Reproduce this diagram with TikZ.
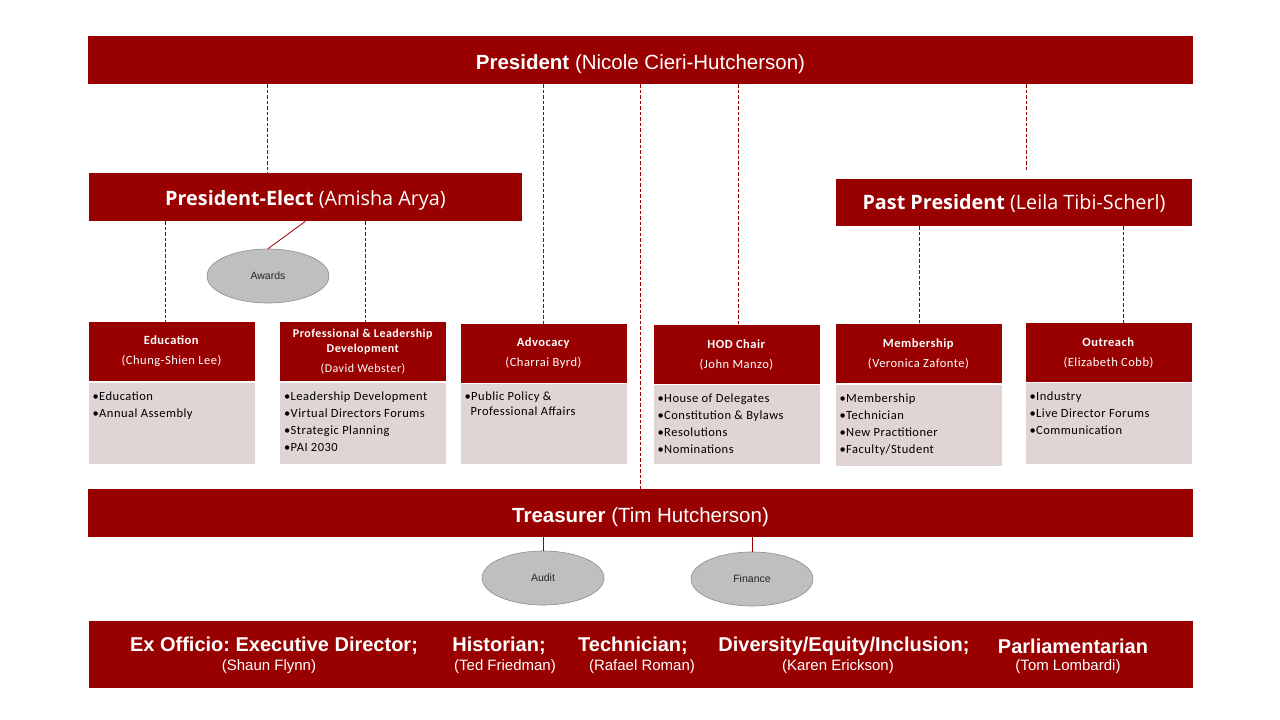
\documentclass[tikz,border=0pt]{standalone}
\usepackage{fontspec}
\setmainfont{Liberation Sans}
\newfontfamily\openf{Open Sans}
\newfontfamily\carl[LetterSpace=4]{Carlito}
\usetikzlibrary{shapes.geometric,calc}
\definecolor{dred}{HTML}{990000}
\definecolor{pinkg}{HTML}{E0D4D4}
\definecolor{ellfill}{HTML}{BFBFBF}
\definecolor{elldraw}{HTML}{8C8C8C}
\tikzset{
  bar/.style={fill=dred, draw=none, text=white, inner sep=0pt, align=center},
  hdr/.style={fill=dred, draw=none, text=white, inner sep=0pt, align=center,
    minimum width=166pt, font=\carl\fontsize{12.5}{20}\selectfont},
  bodybox/.style={fill=pinkg, draw=none, text=black, inner sep=0pt,
    font=\carl\fontsize{12.5}{17}\selectfont},
  oval/.style={ellipse, fill=ellfill, draw=elldraw, line width=0.6pt,
    minimum width=122pt, minimum height=54pt, inner sep=0pt,
    font=\fontsize{10.5}{12}\selectfont, text=black!85},
  dline/.style={draw=dred, line width=0.8pt, dash pattern=on 3.5pt off 2pt},
  sline/.style={draw=dred, line width=0.8pt},
  exo/.style={text=white, inner sep=0pt, align=center}
}
\newcommand{\blist}[2]{\parbox[c][#1][t]{166pt}{\vspace{9pt}\leftskip=4pt\parindent=0pt #2}}
\newcommand{\bi}[1]{\par\hangindent=6pt\hangafter=1 •#1}
\begin{document}
\frenchspacing
\begin{tikzpicture}[x=1pt,y=-1pt]
\useasboundingbox[fill=white] (0,0) rectangle (1280,720);

% top bars
\node[bar, minimum width=1105pt, minimum height=48pt, text height=19pt, text depth=0pt] (pres) at (640.5,60)
  {\fontsize{20.5}{22}\selectfont\textbf{President} (Nicole Cieri-Hutcherson)};
\node[bar, minimum width=433pt, minimum height=48pt, text height=16pt, text depth=0pt] (pe) at (305.5,197)
  {\openf\fontsize{19.8}{20}\selectfont\textbf{President-Elect} (Amisha Arya)};
\node[bar, minimum width=356pt, minimum height=47pt, text height=13.5pt, text depth=0pt] (pp) at (1014,202.5)
  {\openf\fontsize{19.8}{20}\selectfont\textbf{Past President} (Leila Tibi-Scherl)};

\node[oval] (awards) at (268,276) {Awards};

% committees
\node[hdr, minimum height=59pt] (edu) at (171.5,351.5) {\textbf{Education}\\(Chung-Shien Lee)};
\node[bodybox] (edub) at (171.5,423.5) {\blist{81pt}{\bi{Education}\bi{Annual Assembly}}};

\node[hdr, minimum height=59pt, font=\carl\fontsize{12}{15}\selectfont] (pld) at (363,351.5)
  {\textbf{Professional \& Leadership}\\\textbf{Development}\\[5pt](David Webster)};
\node[bodybox] (pldb) at (363,423.5) {\blist{81pt}{\bi{Leadership Development}\bi{Virtual Directors Forums}\bi{Strategic Planning}\bi{PAI 2030}}};

\node[hdr, minimum height=59pt] (adv) at (543.5,353.5) {\textbf{Advocacy}\\(Charrai Byrd)};
\node[bodybox] (advb) at (543.5,424) {\parbox[c][80pt][t]{166pt}{\vspace{8pt}\leftskip=4pt\parindent=0pt\fontsize{12.5}{15}\selectfont\hangindent=6pt\hangafter=1 •Public Policy \&\\Professional Affairs}};

\node[hdr, minimum height=59pt] (hod) at (736.5,354.5) {\textbf{HOD Chair}\\(John Manzo)};
\node[bodybox] (hodb) at (736.5,424.5) {\blist{79pt}{\bi{House of Delegates}\bi{Constitution \& Bylaws}\bi{Resolutions}\bi{Nominations}}};

\node[hdr, minimum height=59pt] (mem) at (918.5,353.5) {\textbf{Membership}\\(Veronica Zafonte)};
\node[bodybox] (memb) at (918.5,425.5) {\blist{81pt}{\bi{Membership}\bi{Technician}\bi{New Practitioner}\bi{Faculty/Student}}};

\node[hdr, minimum height=59pt] (out) at (1108.5,352.5) {\textbf{Outreach}\\(Elizabeth Cobb)};
\node[bodybox] (outb) at (1108.5,423.5) {\blist{81pt}{\bi{Industry}\bi{Live Director Forums}\bi{Communication}}};

% treasurer
\node[bar, minimum width=1105pt, minimum height=48pt, text height=19pt, text depth=0pt] (tr) at (640.5,513)
  {\fontsize{20.5}{22}\selectfont\textbf{Treasurer} (Tim Hutcherson)};
\node[oval] (audit) at (543,578) {Audit};
\node[oval] (fin) at (752,579) {Finance};

% ex officio
\node[bar, minimum width=1104pt, minimum height=67pt] (exo) at (641,654.5) {};
\node[exo] (e1) at (274,646) {\fontsize{20}{22}\selectfont\textbf{Ex Officio: Executive Director;}};
\node[exo] (e1n) at (269,667) {\fontsize{15}{16}\selectfont(Shaun Flynn)};
\node[exo] (e2) at (499,646) {\fontsize{20}{22}\selectfont\textbf{Historian;}};
\node[exo] (e2n) at (505,667) {\fontsize{15}{16}\selectfont(Ted Friedman)};
\node[exo] (e3) at (633,646) {\fontsize{20}{22}\selectfont\textbf{Technician;}};
\node[exo] (e3n) at (642,667) {\fontsize{15}{16}\selectfont(Rafael Roman)};
\node[exo] (e4) at (844,646) {\fontsize{20}{22}\selectfont\textbf{Diversity/Equity/Inclusion;}};
\node[exo] (e4n) at (838,667) {\fontsize{15}{16}\selectfont(Karen Erickson)};
\node[exo] (e5) at (1073,646) {\fontsize{20}{22}\selectfont\textbf{Parliamentarian}};
\node[exo] (e5n) at (1068,667) {\fontsize{15}{16}\selectfont(Tom Lombardi)};

% connectors
\coordinate (x1) at (267,0);
\coordinate (x2) at (543,0);
\coordinate (x3) at (640,0);
\coordinate (x4) at (738,0);
\coordinate (x5) at (1026,0);
\coordinate (x6) at (165,0);
\coordinate (x7) at (365,0);
\coordinate (x8) at (919,0);
\coordinate (x9) at (1123,0);
\draw[dline] (pres.south -| x1) -- (pe.north -| x1);
\draw[dline] (pres.south -| x2) -- (adv.north -| x2);
\draw[dline] (pres.south -| x3) -- (tr.north -| x3);
\draw[dline] (pres.south -| x4) -- (hod.north -| x4);
\draw[dline, shorten >=7pt] (pres.south -| x5) -- (pp.north -| x5);
\draw[dline] (pe.south -| x6) -- (edu.north -| x6);
\draw[dline] (pe.south -| x7) -- (pld.north -| x7);
\draw[dline] (pp.south -| x8) -- (mem.north -| x8);
\draw[dline] (pp.south -| x9) -- (out.north -| x9);
\draw[sline] (pe.south) -- (awards.north);
\draw[sline] (tr.south -| audit.north) -- (audit.north);
\draw[sline] (tr.south -| fin.north) -- (fin.north);
\end{tikzpicture}
\end{document}
